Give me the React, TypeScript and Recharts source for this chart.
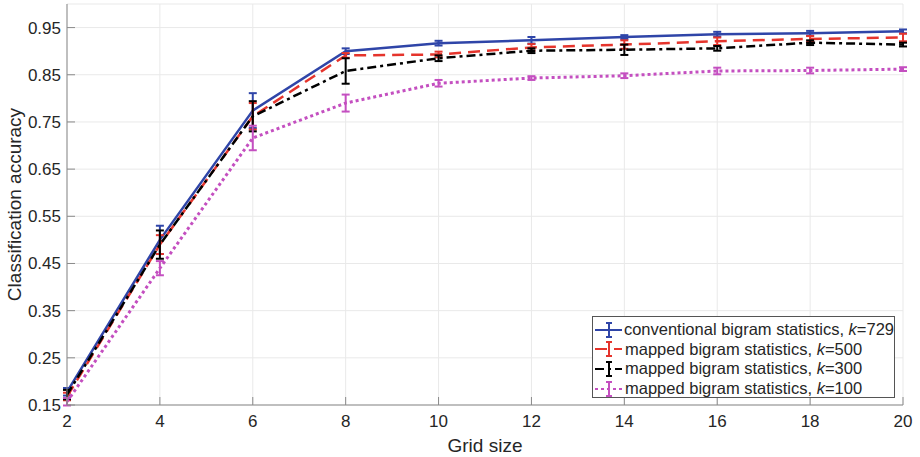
import { CartesianGrid, ErrorBar, Line, LineChart, XAxis, YAxis } from "recharts"

const gridSizes = [2, 4, 6, 8, 10, 12, 14, 16, 18, 20]

const conventional729 = [0.178, 0.5, 0.774, 0.9, 0.917, 0.923, 0.93, 0.936, 0.938, 0.942]
const conventional729Err = [0.008, 0.03, 0.037, 0.006, 0.005, 0.007, 0.004, 0.005, 0.005, 0.004]

const mapped500 = [0.168, 0.49, 0.762, 0.891, 0.893, 0.908, 0.914, 0.921, 0.926, 0.929]
const mapped500Err = [0.008, 0.02, 0.028, 0.005, 0.006, 0.007, 0.009, 0.008, 0.006, 0.008]

const mapped300 = [0.172, 0.49, 0.762, 0.858, 0.885, 0.901, 0.903, 0.906, 0.918, 0.914]
const mapped300Err = [0.01, 0.03, 0.032, 0.027, 0.006, 0.005, 0.011, 0.005, 0.005, 0.004]

const mapped100 = [0.157, 0.44, 0.716, 0.79, 0.832, 0.843, 0.848, 0.858, 0.859, 0.862]
const mapped100Err = [0.008, 0.015, 0.026, 0.018, 0.007, 0.004, 0.005, 0.007, 0.006, 0.004]

const xTicks = [2, 4, 6, 8, 10, 12, 14, 16, 18, 20]
const yTicks = [0.15, 0.25, 0.35, 0.45, 0.55, 0.65, 0.75, 0.85, 0.95]

const series = [
  { key: "c729", label: "conventional bigram statistics, ", k: "729", color: "#2f45a8", dash: undefined, width: 2.5 },
  { key: "m500", label: "mapped bigram statistics, ", k: "500", color: "#e5342c", dash: "12 7", width: 2.5 },
  { key: "m300", label: "mapped bigram statistics, ", k: "300", color: "#000000", dash: "9 4 3 4", width: 2.5 },
  { key: "m100", label: "mapped bigram statistics, ", k: "100", color: "#c44fc0", dash: "3 3", width: 3 },
]

const data = gridSizes.map((g, i) => ({
  grid: g,
  c729: conventional729[i],
  c729Err: conventional729Err[i],
  m500: mapped500[i],
  m500Err: mapped500Err[i],
  m300: mapped300[i],
  m300Err: mapped300Err[i],
  m100: mapped100[i],
  m100Err: mapped100Err[i],
}))

const FONT = "'Liberation Sans', Arial, Helvetica, sans-serif"
const AXIS = "#8a8a8a"
const TEXT = "#262626"
const TICK = 8

const BottomTick = (p: any) => (
  <g>
    <line x1={p.x} x2={p.x} y1={p.y} y2={p.y - TICK} stroke={AXIS} />
    <text x={p.x} y={p.y + 22} textAnchor="middle" fill={TEXT} fontSize={17} fontFamily={FONT}>
      {p.payload.value}
    </text>
  </g>
)

const LeftTick = (p: any) => (
  <g>
    <line x1={p.x} x2={p.x + TICK} y1={p.y} y2={p.y} stroke={AXIS} />
    <text x={p.x - 6} y={p.y + 6} textAnchor="end" fill={TEXT} fontSize={17} fontFamily={FONT}>
      {Number(p.payload.value).toFixed(2)}
    </text>
  </g>
)

const TopTick = (p: any) => <line x1={p.x} x2={p.x} y1={p.y} y2={p.y + TICK} stroke={AXIS} />
const RightTick = (p: any) => <line x1={p.x} x2={p.x - TICK} y1={p.y} y2={p.y} stroke={AXIS} />

function LegendIcon({ color, dash }: { color: string; dash?: string }) {
  return (
    <svg width={29} height={18} style={{ display: "block" }}>
      <line x1={0} x2={27} y1={9} y2={9} stroke={color} strokeWidth={2} strokeDasharray={dash} />
      <line x1={14} x2={14} y1={2} y2={16} stroke={color} strokeWidth={2} />
      <line x1={11} x2={17} y1={2} y2={2} stroke={color} strokeWidth={2} />
      <line x1={11} x2={17} y1={16} y2={16} stroke={color} strokeWidth={2} />
    </svg>
  )
}

export default function App() {
  return (
    <div style={{ position: "absolute", left: 0, top: 0, width: 920, height: 457, background: "#fff", fontFamily: FONT }}>
      <LineChart width={920} height={457} data={data} margin={{ top: 4, right: 17, bottom: 0, left: 0 }}>
        <CartesianGrid stroke="#e9e9e9" strokeWidth={1} />
        <XAxis
          dataKey="grid"
          type="number"
          domain={[2, 20]}
          ticks={xTicks}
          interval={0}
          height={52}
          tickSize={0}
          tickMargin={0}
          tickLine={false}
          axisLine={{ stroke: AXIS }}
          tick={<BottomTick />}
          label={{
            content: (p: any) => (
              <text
                x={p.viewBox.x + p.viewBox.width / 2}
                y={p.viewBox.y + 47}
                textAnchor="middle"
                fill={TEXT}
                fontSize={19}
                fontFamily={FONT}
              >
                Grid size
              </text>
            ),
          }}
        />
        <XAxis
          xAxisId="top"
          orientation="top"
          type="number"
          domain={[2, 20]}
          ticks={xTicks}
          interval={0}
          height={0}
          tickSize={0}
          tickMargin={0}
          tickLine={false}
          axisLine={{ stroke: AXIS }}
          tick={<TopTick />}
          allowDataOverflow
        />
        <YAxis
          type="number"
          domain={[0.15, 1]}
          ticks={yTicks}
          interval={0}
          width={67}
          tickSize={0}
          tickMargin={0}
          tickLine={false}
          axisLine={{ stroke: AXIS }}
          tick={<LeftTick />}
          allowDataOverflow
          label={{
            content: (p: any) => {
              const cx = 14
              const cy = p.viewBox.y + p.viewBox.height / 2
              return (
                <text
                  x={cx}
                  y={cy}
                  transform={`rotate(-90 ${cx} ${cy})`}
                  textAnchor="middle"
                  dominantBaseline="central"
                  fill={TEXT}
                  fontSize={19}
                  fontFamily={FONT}
                >
                  Classification accuracy
                </text>
              )
            },
          }}
        />
        <YAxis
          yAxisId="right"
          orientation="right"
          type="number"
          domain={[0.15, 1]}
          ticks={yTicks}
          interval={0}
          width={0}
          tickSize={0}
          tickMargin={0}
          tickLine={false}
          axisLine={{ stroke: AXIS }}
          tick={<RightTick />}
          allowDataOverflow
        />
        {series.map((s) => (
          <Line
            key={s.key}
            type="linear"
            dataKey={s.key}
            stroke={s.color}
            strokeWidth={s.width}
            strokeDasharray={s.dash}
            dot={false}
            activeDot={false}
            isAnimationActive={false}
          >
            <ErrorBar dataKey={`${s.key}Err`} width={4} strokeWidth={2} stroke={s.color} direction="y" isAnimationActive={false} />
          </Line>
        ))}
      </LineChart>
      <div
        style={{
          position: "absolute",
          left: 592,
          top: 316,
          width: 303,
          height: 82,
          border: "1px solid #555",
          background: "#fff",
          paddingTop: 3,
          boxSizing: "border-box",
        }}
      >
        {series.map((s) => (
          <div key={s.key} style={{ display: "flex", alignItems: "center", height: 19.6, paddingLeft: 2 }}>
            <LegendIcon color={s.color} dash={s.dash} />
            <span style={{ fontSize: 16.5, color: TEXT, whiteSpace: "nowrap", marginLeft: 1 }}>
              {s.label}
              <i>k</i>={s.k}
            </span>
          </div>
        ))}
      </div>
    </div>
  )
}
